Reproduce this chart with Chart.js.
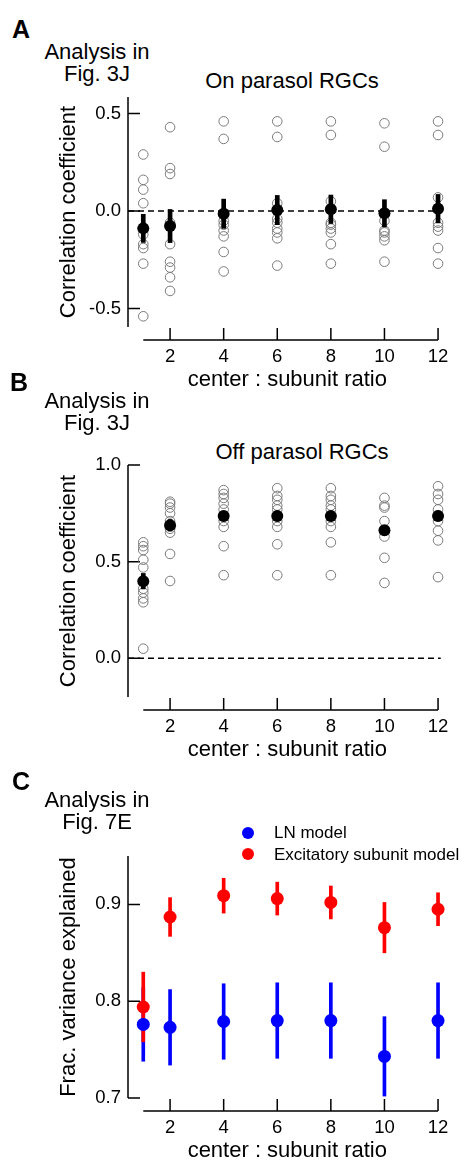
<!DOCTYPE html>
<html>
<head>
<meta charset="utf-8">
<title>center : subunit ratio</title>
<script src="https://cdn.jsdelivr.net/npm/chart.js@4.4.1/dist/chart.umd.min.js"></script>
<style>
  html, body { margin: 0; padding: 0; background: #fff; width: 467px; height: 1161px; overflow: hidden; }
  body { position: relative; font-family: "Liberation Sans", Arial, Helvetica, sans-serif; color: #000; }
  canvas { position: absolute; left: 0; }
  .txt { position: absolute; white-space: nowrap; font-size: 22px; line-height: 22px; }
  .letter { font-weight: bold; font-size: 25px; line-height: 25px; }
  .note { left: 17px; width: 160px; text-align: center; }
  .title { width: 300px; text-align: center; }
  .legend { font-size: 17px; line-height: 17px; left: 274px; }
  .dot { position: absolute; width: 12px; height: 12px; border-radius: 50%; left: 242px; }
</style>
</head>
<body>

<div class="txt letter" style="left:12px; top:17px;">A</div>
<div class="txt note" style="top:41px;">Analysis in<br>Fig. 3J</div>
<div class="txt title" style="left:142px; top:70px;">On parasol RGCs</div>
<canvas id="chartOn" width="467" height="400" style="top:0px;"></canvas>

<div class="txt letter" style="left:10px; top:370px;">B</div>
<div class="txt note" style="top:390px;">Analysis in<br>Fig. 3J</div>
<div class="txt title" style="left:152px; top:441px;">Off parasol RGCs</div>
<canvas id="chartOff" width="467" height="385" style="top:385px;"></canvas>

<div class="txt letter" style="left:12px; top:769px;">C</div>
<div class="txt note" style="top:789px;">Analysis in<br>Fig. 7E</div>
<div id="legendC"></div>
<canvas id="chartFve" width="467" height="401" style="top:770px;"></canvas>

<script>
// center : subunit ratio (x values) and the ticks shown on the x axis
var ratios = [1, 2, 4, 6, 8, 10, 12];
var xTicks = [2, 4, 6, 8, 10, 12];

// A - On parasol RGCs: correlation coefficient of each cell, one list per ratio
var onCells = [
  [0.29, 0.16, 0.11, 0.04, -0.12, -0.17, -0.19, -0.27, -0.54],
  [0.43, 0.22, 0.19, -0.06, -0.17, -0.26, -0.29, -0.34, -0.41],
  [0.46, 0.37, -0.02, -0.05, -0.07, -0.10, -0.13, -0.21, -0.31],
  [0.46, 0.38, 0.04, -0.04, -0.06, -0.09, -0.11, -0.14, -0.28],
  [0.46, 0.39, 0.05, -0.06, -0.07, -0.09, -0.11, -0.17, -0.27],
  [0.45, 0.33, -0.05, -0.10, -0.11, -0.13, -0.15, -0.26],
  [0.46, 0.39, 0.07, -0.06, -0.08, -0.10, -0.19, -0.27]
];
var onMean = [-0.089, -0.077, -0.014, 0.005, 0.009, -0.012, 0.012];
var onSem = [0.072, 0.085, 0.075, 0.075, 0.073, 0.07, 0.073];
var onTicks = [-0.5, 0, 0.5];

// B - Off parasol RGCs
var offCells = [
  [0.60, 0.58, 0.56, 0.51, 0.47, 0.36, 0.34, 0.31, 0.29, 0.05],
  [0.81, 0.80, 0.78, 0.75, 0.71, 0.67, 0.65, 0.54, 0.40],
  [0.87, 0.85, 0.83, 0.80, 0.77, 0.71, 0.68, 0.58, 0.43],
  [0.88, 0.84, 0.82, 0.79, 0.77, 0.71, 0.68, 0.59, 0.43],
  [0.88, 0.84, 0.82, 0.79, 0.77, 0.71, 0.68, 0.60, 0.43],
  [0.83, 0.79, 0.78, 0.71, 0.66, 0.63, 0.52, 0.39],
  [0.89, 0.85, 0.82, 0.77, 0.74, 0.71, 0.66, 0.61, 0.42]
];
var offMean = [0.399, 0.688, 0.736, 0.736, 0.736, 0.663, 0.736];
var offSem = [0.04, 0.03, 0.025, 0.025, 0.025, 0.025, 0.025];
var offTicks = [0, 0.5, 1];

// C - fraction of variance explained
var models = ['LN model', 'Excitatory subunit model'];
var modelColors = ['#0000ff', '#ff0000'];
var lnMean = [0.776, 0.773, 0.779, 0.780, 0.780, 0.743, 0.780];
var lnSem = [0.038, 0.039, 0.039, 0.039, 0.039, 0.041, 0.039];
var subMean = [0.794, 0.887, 0.909, 0.906, 0.902, 0.876, 0.895];
var subSem = [0.036, 0.02, 0.018, 0.017, 0.017, 0.026, 0.017];
var fveTicks = [0.7, 0.8, 0.9];

Chart.defaults.font.family = '"Liberation Sans", Arial, Helvetica, sans-serif';
Chart.defaults.color = '#000';

function cellPoints(cells) {
  var pts = [];
  ratios.forEach(function(r, i) {
    cells[i].forEach(function(v) { pts.push({x: r, y: v}); });
  });
  return pts;
}

function meanPoints(mean) {
  return ratios.map(function(r, i) { return {x: r, y: mean[i]}; });
}

function errPoints(mean, sem) {
  return ratios.map(function(r, i) { return {x: r, y: [mean[i] - sem[i], mean[i] + sem[i]]}; });
}

// Igor-style axes: y axis with inward ticks, detached x axis below the plot
var igorAxes = {
  id: 'igorAxes',
  beforeDatasetsDraw: function(chart) {
    var ctx = chart.ctx, a = chart.chartArea, x = chart.scales.x, y = chart.scales.y;
    var base = a.bottom + 13;
    ctx.save();
    ctx.strokeStyle = '#000';
    ctx.lineWidth = 1.5;
    ctx.beginPath();
    ctx.moveTo(a.left, a.top);
    ctx.lineTo(a.left, a.bottom);
    y.ticks.forEach(function(t) {
      var py = y.getPixelForValue(t.value);
      ctx.moveTo(a.left, py);
      ctx.lineTo(a.left + 12, py);
    });
    ctx.moveTo(x.getPixelForValue(ratios[0]), base);
    ctx.lineTo(x.getPixelForValue(ratios[ratios.length - 1]), base);
    x.ticks.forEach(function(t) {
      var px = x.getPixelForValue(t.value);
      ctx.moveTo(px, base);
      ctx.lineTo(px, base - 12);
    });
    ctx.stroke();
    ctx.restore();
  }
};

function makeScales(yMin, yMax, yTicks, yTitle) {
  return {
    x: {
      type: 'linear', min: 0.43, max: 12.32, offset: false,
      grid: {display: false, drawTicks: false},
      border: {display: false},
      afterBuildTicks: function(s) { s.ticks = xTicks.map(function(v) { return {value: v}; }); },
      afterFit: function(s) { s.height = 73; },
      ticks: {padding: 18.5, font: {size: 18.5}, color: '#000', maxRotation: 0, autoSkip: false},
      title: {display: true, text: 'center : subunit ratio', font: {size: 22}, color: '#000', padding: {top: 0, bottom: 7}}
    },
    y: {
      type: 'linear', min: yMin, max: yMax, beginAtZero: false,
      grid: {display: false, drawTicks: false},
      border: {display: false},
      afterBuildTicks: function(s) { s.ticks = yTicks.map(function(v) { return {value: v}; }); },
      afterFit: function(s) { s.width = 128; },
      ticks: {padding: 7, font: {size: 18.5}, color: '#000', callback: function(v) { return Number(v).toFixed(1); }},
      title: {display: true, text: yTitle, font: {size: 22}, color: '#000', padding: {top: 56, bottom: 0}}
    }
  };
}

function makeOptions(padTop, scales) {
  return {
    responsive: false,
    animation: false,
    events: [],
    layout: {padding: {top: padTop, right: 5, bottom: 0, left: 0}},
    plugins: {legend: {display: false}, tooltip: {enabled: false}},
    scales: scales
  };
}

function cellChart(id, padTop, cells, mean, sem, yMin, yMax, yTicks) {
  return new Chart(document.getElementById(id).getContext('2d'), {
    type: 'scatter',
    data: {
      datasets: [
        {type: 'scatter', data: meanPoints(mean), pointRadius: 6, backgroundColor: '#000', borderColor: '#000', borderWidth: 0, order: 0, clip: false},
        {type: 'bar', data: errPoints(mean, sem), backgroundColor: '#000', barThickness: 4, grouped: false, borderWidth: 0, order: 1, clip: false},
        {type: 'scatter', data: cellPoints(cells), pointRadius: 4.8, backgroundColor: 'rgba(0,0,0,0)', borderColor: '#7a7a7a', borderWidth: 1, order: 2, clip: false},
        {type: 'line', data: [{x: 0.43, y: 0}, {x: 12.1, y: 0}], borderColor: '#000', borderWidth: 1.5, borderDash: [6, 4], pointRadius: 0, order: 3, clip: false}
      ]
    },
    options: makeOptions(padTop, makeScales(yMin, yMax, yTicks, 'Correlation coefficient')),
    plugins: [igorAxes]
  });
}

cellChart('chartOn', 97, onCells, onMean, onSem, -0.595, 0.585, onTicks);
cellChart('chartOff', 80, offCells, offMean, offSem, -0.2, 1.0, offTicks);

new Chart(document.getElementById('chartFve').getContext('2d'), {
  type: 'scatter',
  data: {
    datasets: [
      {type: 'scatter', label: models[1], data: meanPoints(subMean), pointRadius: 6.5, backgroundColor: modelColors[1], borderWidth: 0, order: 0, clip: false},
      {type: 'scatter', label: models[0], data: meanPoints(lnMean), pointRadius: 6.5, backgroundColor: modelColors[0], borderWidth: 0, order: 1, clip: false},
      {type: 'bar', data: errPoints(subMean, subSem), backgroundColor: modelColors[1], barThickness: 3, grouped: false, borderWidth: 0, order: 2, clip: false},
      {type: 'bar', data: errPoints(lnMean, lnSem), backgroundColor: modelColors[0], barThickness: 3, grouped: false, borderWidth: 0, order: 3, clip: false}
    ]
  },
  options: makeOptions(86, makeScales(0.7, 0.95, fveTicks, 'Frac. variance explained')),
  plugins: [igorAxes]
});

// legend for panel C
var legend = document.getElementById('legendC');
models.forEach(function(name, i) {
  var dot = document.createElement('div');
  dot.className = 'dot';
  dot.style.top = (827 + i * 21) + 'px';
  dot.style.background = modelColors[i];
  legend.appendChild(dot);
  var label = document.createElement('div');
  label.className = 'txt legend';
  label.style.top = (824 + i * 21.5) + 'px';
  label.textContent = name;
  legend.appendChild(label);
});
</script>
</body>
</html>
